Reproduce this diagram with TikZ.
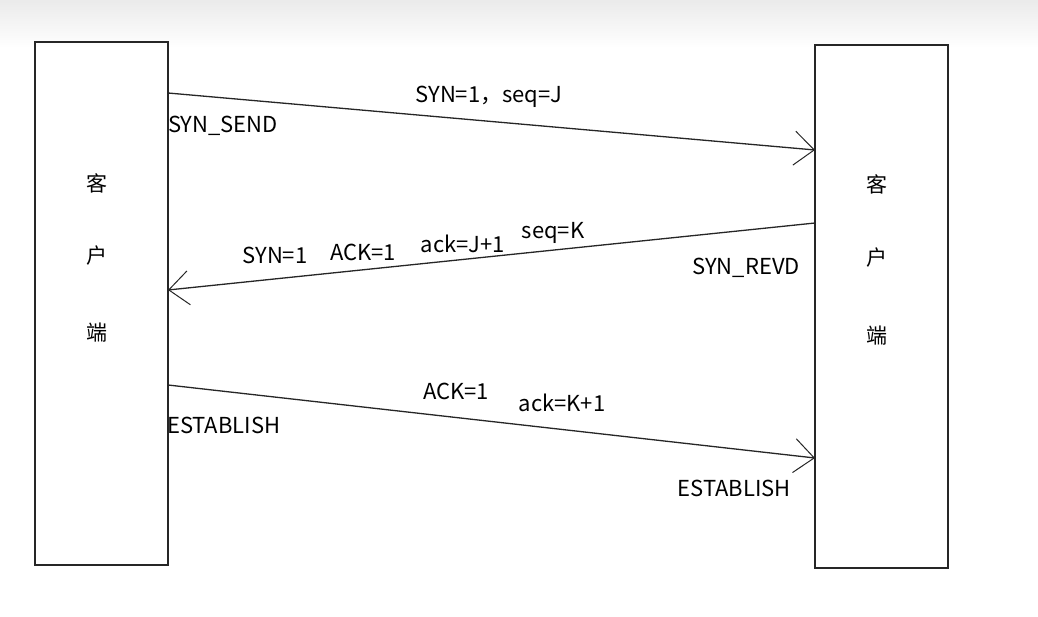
\documentclass[tikz,border=0pt]{standalone}
\usepackage{fontspec}
\setmainfont{Noto Sans CJK SC}
\usetikzlibrary{arrows.meta}
\tikzset{
  hostbox/.style={draw=black!85, line width=1.3pt, minimum width=133pt, minimum height=523pt, inner sep=0pt},
  hostname/.style={font=\fontsize{21}{24}\selectfont},
  msg/.style={draw=black!85, line width=1.3pt, -{Straight Barb[length=20pt,width=34pt,line width=1pt]}},
  lbl/.style={font=\fontsize{22}{25}\selectfont, inner sep=1pt, text=black},
}
\begin{document}
\begin{tikzpicture}[x=1pt,y=-1pt]
\useasboundingbox (0,0) rectangle (1038,617);
\fill[white] (0,0) rectangle (1038,617);
\shade[top color=black!8, bottom color=white] (0,0) rectangle (1038,48); % screen band
\node[hostbox] (cli) at (101.5,303.5) {};
\node[hostbox] (srv) at (881.5,306.5) {};
\node[hostname] (cli1) at (97,183) {客};
\node[hostname] (cli2) at (97,256) {户};
\node[hostname] (cli3) at (97,333) {端};
\node[hostname] (srv1) at (877,184) {客};
\node[hostname] (srv2) at (877,258) {户};
\node[hostname] (srv3) at (877,336) {端};
% end points of the messages
\coordinate (a1) at (168,93);
\coordinate (b1) at (815,150);
\coordinate (a2) at (815,223);
\coordinate (b2) at (168,290);
\coordinate (a3) at (168,385);
\coordinate (b3) at (815,458);
\draw[msg] (a1) -- (b1);
\draw[msg] (a2) -- (b2);
\draw[msg] (a3) -- (b3);
\node[lbl] (m1) at (489,97) {SYN=1，seq=J};
\node[lbl, anchor=west] (st1) at (167,126) {SYN\_SEND};
\node[lbl] (m2a) at (275,255) {SYN=1};
\node[lbl] (m2b) at (363,252) {ACK=1};
\node[lbl] (m2c) at (463,244) {ack=J+1};
\node[lbl] (m2d) at (553,233) {seq=K};
\node[lbl, anchor=east] (st2) at (801,268) {SYN\_REVD};
\node[lbl] (m3a) at (456,391) {ACK=1};
\node[lbl] (m3b) at (562,403) {ack=K+1};
\node[lbl, anchor=west] (st3) at (166,425) {ESTABLISH};
\node[lbl, anchor=east] (st4) at (792,488) {ESTABLISH};
\end{tikzpicture}
\end{document}
